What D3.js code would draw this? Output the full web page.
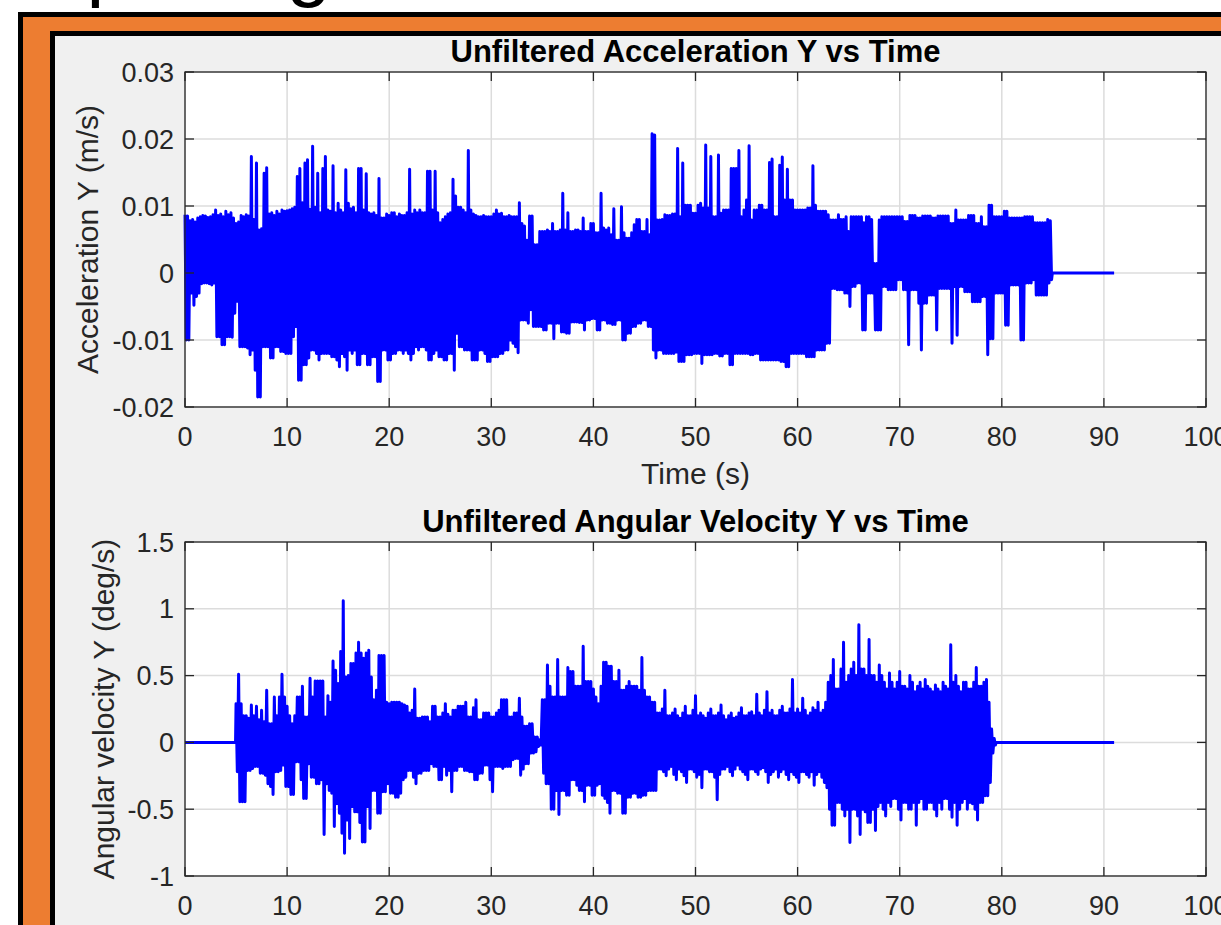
<!DOCTYPE html>
<html>
<head>
<meta charset="utf-8">
<script src="https://cdn.jsdelivr.net/npm/d3@7"></script>
<style>
  body { margin: 0; background: #fff; overflow: hidden; }
  svg { display: block; font-family: "Liberation Sans", Arial, Helvetica, sans-serif; }
</style>
</head>
<body>
<div id="fig"></div>
<script>
// ---- data --------------------------------------------------------------
const xTicks = [0, 10, 20, 30, 40, 50, 60, 70, 80, 90, 100];
const accTicks = [-0.02, -0.01, 0, 0.01, 0.02, 0.03];
const gyroTicks = [-1, -0.5, 0, 0.5, 1, 1.5];

// acceleration Y, sampled every 0.125 s from t = 0, listed in thousandths of m/s
const accStart = 0, accStep = 0.125;
const accY = [
  8.7,-10.0,8.5,-10.0, 7.8,-3.0,8.0,-4.8, 7.6,-3.5,8.2,-3.0, 8.4,-1.6,8.6,-1.5, 8.5,-1.5,8.3,-1.6,
  8.4,-1.8,8.7,-1.5, 9.4,-9.5,8.6,-9.5, 8.8,-10.7,8.4,-10.7, 9.2,-9.5,8.7,-9.5, 9.0,-9.6,8.2,-6.0,
  7.4,-4.2,7.6,-11.0, 8.6,-11.0,8.4,-11.0, 8.7,-11.2,8.5,-12.2, 17.4,-11.5,8.0,-14.5, 16.4,-18.5,6.4,-18.5,
  6.6,-11.0,14.9,-11.0, 15.7,-11.0,8.8,-12.7, 9.0,-12.7,8.6,-11.0, 9.2,-11.0,8.8,-11.7, 9.4,-11.7,9.2,-12.0,
  9.3,-12.0,9.4,-12.0, 9.6,-9.5,9.8,-8.0, 14.4,-16.0,15.6,-16.0, 10.5,-13.7,16.4,-13.7, 16.9,-12.7,9.5,-11.5,
  18.9,-11.5,9.8,-12.0, 14.9,-13.0,9.0,-12.0, 15.6,-12.0,17.4,-12.0, 9.4,-12.0,9.2,-12.5, 16.0,-12.5,9.0,-13.0,
  10.4,-14.0,9.4,-12.0, 9.0,-12.5,15.4,-14.5, 10.4,-11.5,9.6,-12.0, 9.8,-11.5,9.0,-13.7, 15.6,-13.7,15.6,-12.0,
  9.4,-12.0,14.8,-13.7, 9.0,-13.7,8.8,-12.5, 9.0,-12.5,8.6,-16.2, 14.1,-16.2,8.2,-11.5, 8.2,-11.5,8.8,-13.0,
  8.6,-13.0,9.0,-12.0, 9.0,-12.0,8.4,-11.5, 8.8,-11.5,8.6,-12.0, 8.6,-11.5,9.0,-12.0, 15.5,-13.0,8.8,-12.0,
  9.4,-11.0,9.0,-11.5, 9.4,-11.0,9.0,-11.0, 9.0,-11.5,15.2,-13.0, 15.2,-13.0,9.4,-12.0, 15.2,-11.5,9.0,-12.5,
  7.5,-12.5,8.0,-13.0, 8.4,-13.0,8.8,-12.0, 9.0,-12.0,14.0,-14.5, 11.5,-9.0,9.8,-11.0, 9.8,-11.0,9.4,-11.5,
  9.0,-11.5,18.3,-11.5, 9.4,-13.0,8.8,-13.0, 8.6,-13.0,8.4,-11.5, 8.4,-11.5,8.6,-12.0, 8.4,-13.2,8.4,-13.2,
  8.4,-12.5,8.8,-12.5, 9.4,-12.5,8.8,-12.0, 8.9,-12.0,8.4,-11.5, 8.4,-11.5,8.6,-10.0, 8.4,-10.5,8.4,-11.0,
  8.4,-11.9,10.5,-7.0, 7.4,-7.0,7.0,-7.0, 4.9,-7.5,8.5,-5.5, 8.5,-8.0,4.2,-8.0, 4.2,-8.0,6.2,-8.0,
  6.2,-8.5,6.2,-8.5, 6.4,-7.5,6.2,-7.5, 7.4,-9.8,6.2,-7.5, 6.2,-7.5,6.4,-8.8, 11.9,-8.8,6.4,-9.0,
  9.0,-9.0,6.2,-7.3, 6.2,-7.3,6.4,-7.3, 6.4,-7.4,6.2,-7.4, 8.2,-8.5,6.2,-7.0, 6.2,-7.0,7.4,-6.8,
  7.4,-6.8,6.0,-8.5, 6.0,-8.5,11.9,-7.0, 6.7,-7.0,6.4,-7.5, 6.7,-7.5,5.7,-7.7, 9.6,-7.7,4.9,-7.0,
  4.9,-7.0,9.9,-10.0, 6.0,-10.0,5.2,-9.0, 5.2,-9.0,6.0,-8.0, 7.2,-8.0,8.0,-7.5, 8.0,-7.5,6.2,-7.0,
  6.2,-7.0,8.0,-8.0, 5.7,-8.0,20.8,-11.5, 20.6,-12.7,7.9,-11.5, 7.9,-11.5,8.0,-12.0, 8.7,-12.0,8.6,-12.0,
  8.6,-12.0,8.8,-12.0, 8.8,-11.8,18.6,-13.2, 8.4,-13.2,16.4,-13.2, 10.1,-12.2,10.1,-12.2, 10.1,-12.2,8.9,-12.0,
  8.9,-12.0,10.1,-12.0, 10.4,-13.5,9.7,-12.2, 19.1,-12.2,9.7,-12.2, 17.4,-12.2,8.4,-12.0, 8.4,-12.0,17.6,-12.4,
  8.9,-12.4,9.4,-12.0, 9.4,-12.0,9.4,-13.7, 15.6,-13.7,15.6,-12.0, 15.6,-12.0,18.3,-12.0, 8.4,-12.0,9.4,-12.0,
  10.9,-12.0,19.0,-12.2, 7.9,-12.2,9.4,-12.0, 9.4,-12.0,10.1,-13.0, 10.1,-13.0,9.4,-13.0, 9.4,-13.0,16.5,-13.0,
  17.0,-13.0,8.4,-13.0, 8.4,-13.0,16.1,-13.2, 17.3,-13.2,10.9,-14.0, 15.5,-14.0,10.9,-12.0, 10.9,-12.0,9.4,-12.0,
  9.4,-12.0,9.4,-12.0, 9.4,-12.0,9.4,-12.5, 9.7,-12.5,9.7,-12.5, 16.0,-12.5,10.1,-11.5, 9.2,-11.5,9.2,-11.5,
  9.2,-11.5,9.2,-10.5, 8.7,-10.5,7.9,-2.3, 7.9,-2.3,7.9,-2.5, 8.7,-2.5,8.0,-2.5, 8.0,-3.0,8.4,-3.0,
  6.2,-5.0,8.4,-2.0, 8.4,-2.0,8.4,-1.5, 8.4,-1.5,8.4,-8.5, 7.5,-8.5,8.4,-3.0, 8.4,-3.0,8.0,-3.0,
  1.4,-8.5,1.4,-8.5, 7.9,-8.5,8.4,-2.0, 8.4,-2.0,8.4,-2.5, 8.4,-2.5,8.4,-2.5, 8.4,-2.5,8.4,-1.0,
  8.4,-1.0,8.4,-2.5, 7.7,-2.5,7.7,-10.7, 8.6,-2.5,8.6,-2.5, 8.6,-2.5,8.2,-4.5, 8.2,-11.5,8.5,-4.5,
  8.5,-4.5,8.5,-3.3, 8.5,-3.3,8.2,-3.3, 8.2,-8.5,8.5,-2.3, 8.5,-2.3,8.5,-2.3, 8.5,-2.3,8.5,-2.3,
  7.4,-10.5,7.4,-2.0, 9.4,-9.3,7.9,-2.0, 7.9,-2.0,7.9,-2.8, 7.9,-2.8,8.6,-2.8, 8.6,-4.3,8.6,-4.3,
  7.4,-4.3,7.4,-4.3, 8.4,-3.5,6.9,-3.5, 6.9,-12.2,10.1,-9.8, 10.1,-9.8,8.4,-3.0, 8.4,-3.0,8.4,-3.0,
  8.4,-3.0,9.2,-7.8, 9.2,-7.8,8.2,-1.8, 8.2,-1.8,8.2,-1.8, 8.2,-1.8,8.2,-10.0, 8.2,-10.0,8.4,-1.5,
  8.4,-1.5,8.4,-1.5, 8.4,-1.0,7.5,-3.3, 7.5,-3.3,7.5,-3.3, 7.5,-3.3,7.5,-3.3, 8.0,-1.5,7.8,-1.0
];
const accTail = [[84.95, 0], [91, 0]];

// angular velocity Y (deg/s), sampled every 0.125 s from t = 5
const gyroHead = [[0, 0], [4.95, 0]];
const gyroStart = 5, gyroStep = 0.125;
const gyroY = [
  0.29,-0.22,0.51,-0.445, 0.29,-0.445,0.2,-0.445, 0.2,-0.21,0.18,-0.21, 0.28,-0.195,0.2,-0.18, 0.27,-0.18,0.17,-0.23,
  0.24,-0.23,0.155,-0.245, 0.39,-0.31,0.14,-0.33, 0.14,-0.39,0.34,-0.22, 0.2,-0.22,0.34,-0.21, 0.51,-0.17,0.34,-0.33,
  0.27,-0.33,0.2,-0.39, 0.14,-0.39,0.2,-0.145, 0.34,-0.145,0.34,-0.28, 0.42,-0.42,0.19,-0.42, 0.19,-0.16,0.48,-0.26,
  0.34,-0.26,0.46,-0.31, 0.46,-0.31,0.46,-0.28, 0.46,-0.69,0.19,-0.31, 0.35,-0.36,0.3,-0.38, 0.61,-0.63,0.54,-0.46,
  0.44,-0.53,0.68,-0.68, 1.06,-0.83,0.49,-0.58, 0.5,-0.72,0.59,-0.48, 0.59,-0.52,0.67,-0.52, 0.75,-0.6,0.67,-0.745,
  0.63,-0.745,0.67,-0.48, 0.69,-0.645,0.49,-0.36, 0.32,-0.36,0.39,-0.53, 0.65,-0.53,0.65,-0.37, 0.65,-0.37,0.3,-0.31,
  0.29,-0.38,0.3,-0.38, 0.3,-0.41,0.3,-0.41, 0.3,-0.38,0.29,-0.28, 0.28,-0.26,0.27,-0.21, 0.22,-0.21,0.24,-0.26,
  0.4,-0.31,0.18,-0.23, 0.18,-0.23,0.19,-0.21, 0.19,-0.21,0.19,-0.21, 0.155,-0.16,0.27,-0.18, 0.27,-0.18,0.19,-0.28,
  0.19,-0.28,0.22,-0.18, 0.29,-0.245,0.21,-0.21, 0.19,-0.37,0.24,-0.21, 0.24,-0.21,0.27,-0.18, 0.27,-0.18,0.27,-0.21,
  0.3,-0.21,0.19,-0.22, 0.19,-0.22,0.26,-0.28, 0.32,-0.28,0.17,-0.23, 0.17,-0.23,0.22,-0.17, 0.22,-0.17,0.22,-0.28,
  0.19,-0.37,0.19,-0.18, 0.22,-0.18,0.24,-0.18, 0.32,-0.195,0.32,-0.18, 0.32,-0.18,0.19,-0.18, 0.19,-0.13,0.22,-0.12,
  0.22,-0.12,0.33,-0.245, 0.19,-0.2,0.12,-0.16, 0.12,-0.16,0.14,-0.08, 0.14,-0.08,0.04,-0.07, 0.04,-0.03,0.02,-0.02,
  0.32,-0.23,0.32,-0.31, 0.58,-0.31,0.42,-0.5, 0.34,-0.5,0.34,-0.36, 0.62,-0.54,0.34,-0.36, 0.34,-0.36,0.34,-0.395,
  0.56,-0.395,0.53,-0.28, 0.53,-0.28,0.42,-0.32, 0.42,-0.36,0.42,-0.36, 0.72,-0.445,0.455,-0.32, 0.455,-0.32,0.455,-0.395,
  0.4,-0.395,0.34,-0.32, 0.29,-0.31,0.42,-0.395, 0.6,-0.42,0.6,-0.45, 0.57,-0.53,0.57,-0.36, 0.455,-0.36,0.455,-0.38,
  0.54,-0.38,0.39,-0.53, 0.39,-0.53,0.42,-0.41, 0.455,-0.41,0.42,-0.38, 0.42,-0.38,0.42,-0.41, 0.39,-0.41,0.635,-0.395,
  0.39,-0.395,0.34,-0.36, 0.34,-0.36,0.3,-0.36, 0.3,-0.36,0.22,-0.2, 0.22,-0.2,0.25,-0.22, 0.39,-0.25,0.2,-0.2,
  0.2,-0.18,0.22,-0.24, 0.25,-0.28,0.2,-0.2, 0.18,-0.22,0.22,-0.25, 0.27,-0.3,0.2,-0.2, 0.2,-0.2,0.24,-0.22,
  0.35,-0.26,0.2,-0.24, 0.22,-0.34,0.2,-0.2, 0.18,-0.2,0.22,-0.22, 0.25,-0.22,0.2,-0.26, 0.2,-0.43,0.22,-0.24,
  0.28,-0.2,0.2,-0.2, 0.17,-0.18,0.2,-0.22, 0.22,-0.25,0.18,-0.2, 0.19,-0.17,0.22,-0.2, 0.26,-0.22,0.2,-0.24,
  0.2,-0.28,0.22,-0.2, 0.23,-0.2,0.2,-0.22, 0.36,-0.24,0.22,-0.2, 0.2,-0.19,0.24,-0.22, 0.38,-0.3,0.22,-0.24,
  0.24,-0.22,0.2,-0.2, 0.2,-0.26,0.24,-0.22, 0.27,-0.2,0.22,-0.24, 0.22,-0.28,0.25,-0.22, 0.47,-0.24,0.22,-0.26,
  0.25,-0.3,0.22,-0.22, 0.33,-0.22,0.24,-0.24, 0.2,-0.26,0.22,-0.22, 0.26,-0.32,0.24,-0.24, 0.3,-0.22,0.22,-0.26,
  0.24,-0.3,0.3,-0.34, 0.45,-0.5,0.5,-0.62, 0.62,-0.62,0.4,-0.45, 0.4,-0.45,0.55,-0.5, 0.75,-0.55,0.45,-0.5,
  0.5,-0.75,0.55,-0.5, 0.6,-0.5,0.5,-0.55, 0.88,-0.69,0.55,-0.5, 0.55,-0.52,0.5,-0.6, 0.77,-0.6,0.5,-0.5,
  0.5,-0.66,0.45,-0.48, 0.58,-0.45,0.5,-0.5, 0.45,-0.55,0.4,-0.45, 0.52,-0.48,0.45,-0.42, 0.4,-0.42,0.45,-0.5,
  0.53,-0.58,0.42,-0.45, 0.42,-0.45,0.4,-0.5, 0.5,-0.5,0.45,-0.45, 0.38,-0.62,0.42,-0.45, 0.45,-0.42,0.4,-0.5,
  0.47,-0.5,0.42,-0.45, 0.4,-0.45,0.38,-0.5, 0.43,-0.55,0.4,-0.45, 0.38,-0.5,0.45,-0.42, 0.42,-0.42,0.4,-0.5,
  0.73,-0.56,0.45,-0.45, 0.5,-0.62,0.42,-0.5, 0.38,-0.45,0.45,-0.42, 0.45,-0.5,0.4,-0.45, 0.4,-0.46,0.45,-0.5,
  0.56,-0.58,0.42,-0.45, 0.42,-0.45,0.45,-0.4, 0.47,-0.4,0.3,-0.3, 0.1,-0.08,0.03,-0.02
];
const gyroTail = [[79.45, 0], [91, 0]];

// ---- page --------------------------------------------------------------
const width = 1221, height = 925;
const svg = d3.select('#fig').append('svg')
  .attr('width', width)
  .attr('height', height);

// slide heading, mostly cut off by the screenshot
svg.append('text')
  .attr('x', -78).attr('y', -9)
  .attr('font-size', 80)
  .attr('fill', '#000')
  .text('Sample Signal');

// orange picture frame
svg.append('rect').attr('x', 18).attr('y', 12).attr('width', 1300).attr('height', 1000).attr('fill', '#000');
svg.append('rect').attr('x', 23).attr('y', 17).attr('width', 1300).attr('height', 1000).attr('fill', '#ed7d31');
svg.append('rect').attr('x', 50).attr('y', 31).attr('width', 1300).attr('height', 1000).attr('fill', '#000');
svg.append('rect').attr('x', 55).attr('y', 36).attr('width', 1300).attr('height', 1000).attr('fill', '#f0f0f0');

const x = d3.scaleLinear().domain([0, 100]).range([185, 1206]);

function series(start, step, vals, k) {
  return vals.map((v, i) => [start + i * step, v * k]);
}

function panel(opt) {
  const y = d3.scaleLinear().domain(opt.domain).range([opt.bottom, opt.top]);
  const g = svg.append('g');
  const [x0, x1] = x.range();

  g.append('rect')
    .attr('x', x0).attr('y', opt.top)
    .attr('width', x1 - x0).attr('height', opt.bottom - opt.top)
    .attr('fill', '#fff');

  // grid
  g.append('g').selectAll('line').data(xTicks).join('line')
    .attr('x1', d => x(d)).attr('x2', d => x(d))
    .attr('y1', opt.top).attr('y2', opt.bottom)
    .attr('stroke', '#dcdcdc').attr('stroke-width', 1.5);
  g.append('g').selectAll('line').data(opt.ticks).join('line')
    .attr('x1', x0).attr('x2', x1)
    .attr('y1', d => y(d)).attr('y2', d => y(d))
    .attr('stroke', '#dcdcdc').attr('stroke-width', 1.5);

  // signal
  const line = d3.line().x(d => x(d[0])).y(d => y(d[1]));
  g.append('path')
    .datum(opt.points)
    .attr('d', line)
    .attr('fill', 'none')
    .attr('stroke', '#0000ff')
    .attr('stroke-width', 3)
    .attr('stroke-linejoin', 'round');

  // box + inward ticks on all sides
  g.append('rect')
    .attr('x', x0).attr('y', opt.top)
    .attr('width', x1 - x0).attr('height', opt.bottom - opt.top)
    .attr('fill', 'none').attr('stroke', '#262626').attr('stroke-width', 1.3);

  const tl = 9;
  const ticks = g.append('g').attr('stroke', '#262626').attr('stroke-width', 1.3);
  xTicks.forEach(d => {
    ticks.append('line').attr('x1', x(d)).attr('x2', x(d)).attr('y1', opt.bottom).attr('y2', opt.bottom - tl);
    ticks.append('line').attr('x1', x(d)).attr('x2', x(d)).attr('y1', opt.top).attr('y2', opt.top + tl);
  });
  opt.ticks.forEach(d => {
    ticks.append('line').attr('x1', x0).attr('x2', x0 + tl).attr('y1', y(d)).attr('y2', y(d));
    ticks.append('line').attr('x1', x1).attr('x2', x1 - tl).attr('y1', y(d)).attr('y2', y(d));
  });

  // tick labels
  g.append('g').selectAll('text').data(xTicks).join('text')
    .attr('x', d => x(d)).attr('y', opt.bottom + 39)
    .attr('text-anchor', 'middle')
    .attr('font-size', 27).attr('fill', '#262626')
    .text(d => String(d));
  g.append('g').selectAll('text').data(opt.ticks).join('text')
    .attr('x', x0 - 11).attr('y', d => y(d) + 9.5)
    .attr('text-anchor', 'end')
    .attr('font-size', 27).attr('fill', '#262626')
    .text(d => String(d));

  // title and labels
  g.append('text')
    .attr('x', (x0 + x1) / 2).attr('y', opt.top - 10)
    .attr('text-anchor', 'middle')
    .attr('font-size', 31).attr('font-weight', 'bold').attr('fill', '#000')
    .text(opt.title);
  g.append('text')
    .attr('transform', `translate(${opt.ylabelX},${(opt.top + opt.bottom) / 2}) rotate(-90)`)
    .attr('text-anchor', 'middle')
    .attr('font-size', 30).attr('fill', '#262626')
    .text(opt.ylabel);
  if (opt.xlabel) {
    g.append('text')
      .attr('x', (x0 + x1) / 2).attr('y', opt.bottom + 77)
      .attr('text-anchor', 'middle')
      .attr('font-size', 30).attr('fill', '#262626')
      .text(opt.xlabel);
  }
}

panel({
  top: 72, bottom: 407,
  domain: [-0.02, 0.03], ticks: accTicks,
  title: 'Unfiltered Acceleration Y vs Time',
  ylabel: 'Acceleration Y (m/s)', ylabelX: 98,
  xlabel: 'Time (s)',
  points: series(accStart, accStep, accY, 1e-3).concat(accTail)
});

panel({
  top: 542, bottom: 876,
  domain: [-1, 1.5], ticks: gyroTicks,
  title: 'Unfiltered Angular Velocity Y vs Time',
  ylabel: 'Angular velocity Y (deg/s)', ylabelX: 114,
  points: gyroHead.concat(series(gyroStart, gyroStep, gyroY, 1))
    .concat(gyroTail)
});
</script>
</body>
</html>
